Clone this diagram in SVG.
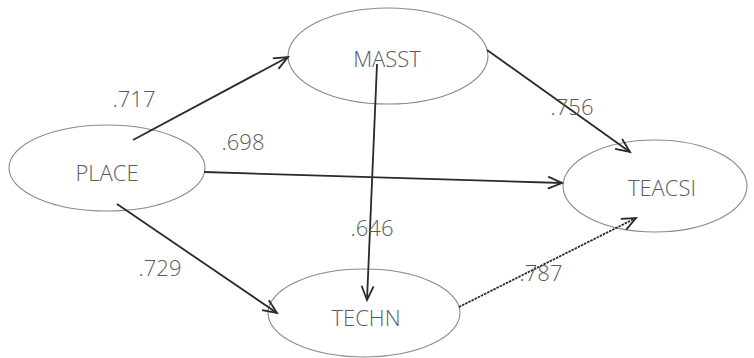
<svg xmlns="http://www.w3.org/2000/svg" width="754" height="358" viewBox="0 0 754 358">
<defs>
<marker id="arr" markerUnits="userSpaceOnUse" markerWidth="18" markerHeight="16" refX="15" refY="7" orient="auto">
<path d="M1,1 L15,7 L1,13" fill="none" stroke="#2a2a2a" stroke-width="1.8"/>
</marker>
</defs>
<style>
.node ellipse{fill:#fff;stroke:#8a8a8a;stroke-width:1.1}
.node text{font-family:"Open Sans","Liberation Sans",sans-serif;font-size:22px;font-weight:300;fill:#5a5a5a;text-anchor:middle}
.edge{stroke:#2a2a2a;stroke-width:1.8;fill:none;marker-end:url(#arr)}
.lbl{font-family:"Open Sans","Liberation Sans",sans-serif;font-size:22px;font-weight:300;fill:#5a5a5a;text-anchor:middle}
</style>
<rect width="754" height="358" fill="#fff"/>
<g id="PLACE" class="node"><ellipse cx="107" cy="168" rx="98" ry="43"/><text x="107" y="181">PLACE</text></g>
<g id="MASST" class="node"><ellipse cx="388" cy="56" rx="100" ry="48"/><text x="387" y="67">MASST</text></g>
<g id="TEACSI" class="node"><ellipse cx="655" cy="186" rx="92" ry="46"/><text x="662" y="196">TEACSI</text></g>
<g id="TECHN" class="node"><ellipse cx="364" cy="313" rx="96" ry="44"/><text x="366" y="326">TECHN</text></g>
<g id="connectors">
<line class="edge" x1="133" y1="140" x2="288" y2="57"/>
<line class="edge" x1="204" y1="172" x2="562" y2="183"/>
<line class="edge" x1="487" y1="50" x2="630" y2="152"/>
<line class="edge" x1="377" y1="64" x2="367" y2="300"/>
<line class="edge" x1="117" y1="204" x2="277" y2="313"/>
<line class="edge" x1="459" y1="307" x2="636" y2="218" stroke-dasharray="2.5 1"/>
</g>
<g id="labels">
<text class="lbl" x="134" y="107">.717</text>
<text class="lbl" x="243" y="150">.698</text>
<text class="lbl" x="572" y="115">.756</text>
<text class="lbl" x="372" y="236">.646</text>
<text class="lbl" x="160" y="276">.729</text>
<text class="lbl" x="541" y="281">.787</text>
</g>
</svg>
